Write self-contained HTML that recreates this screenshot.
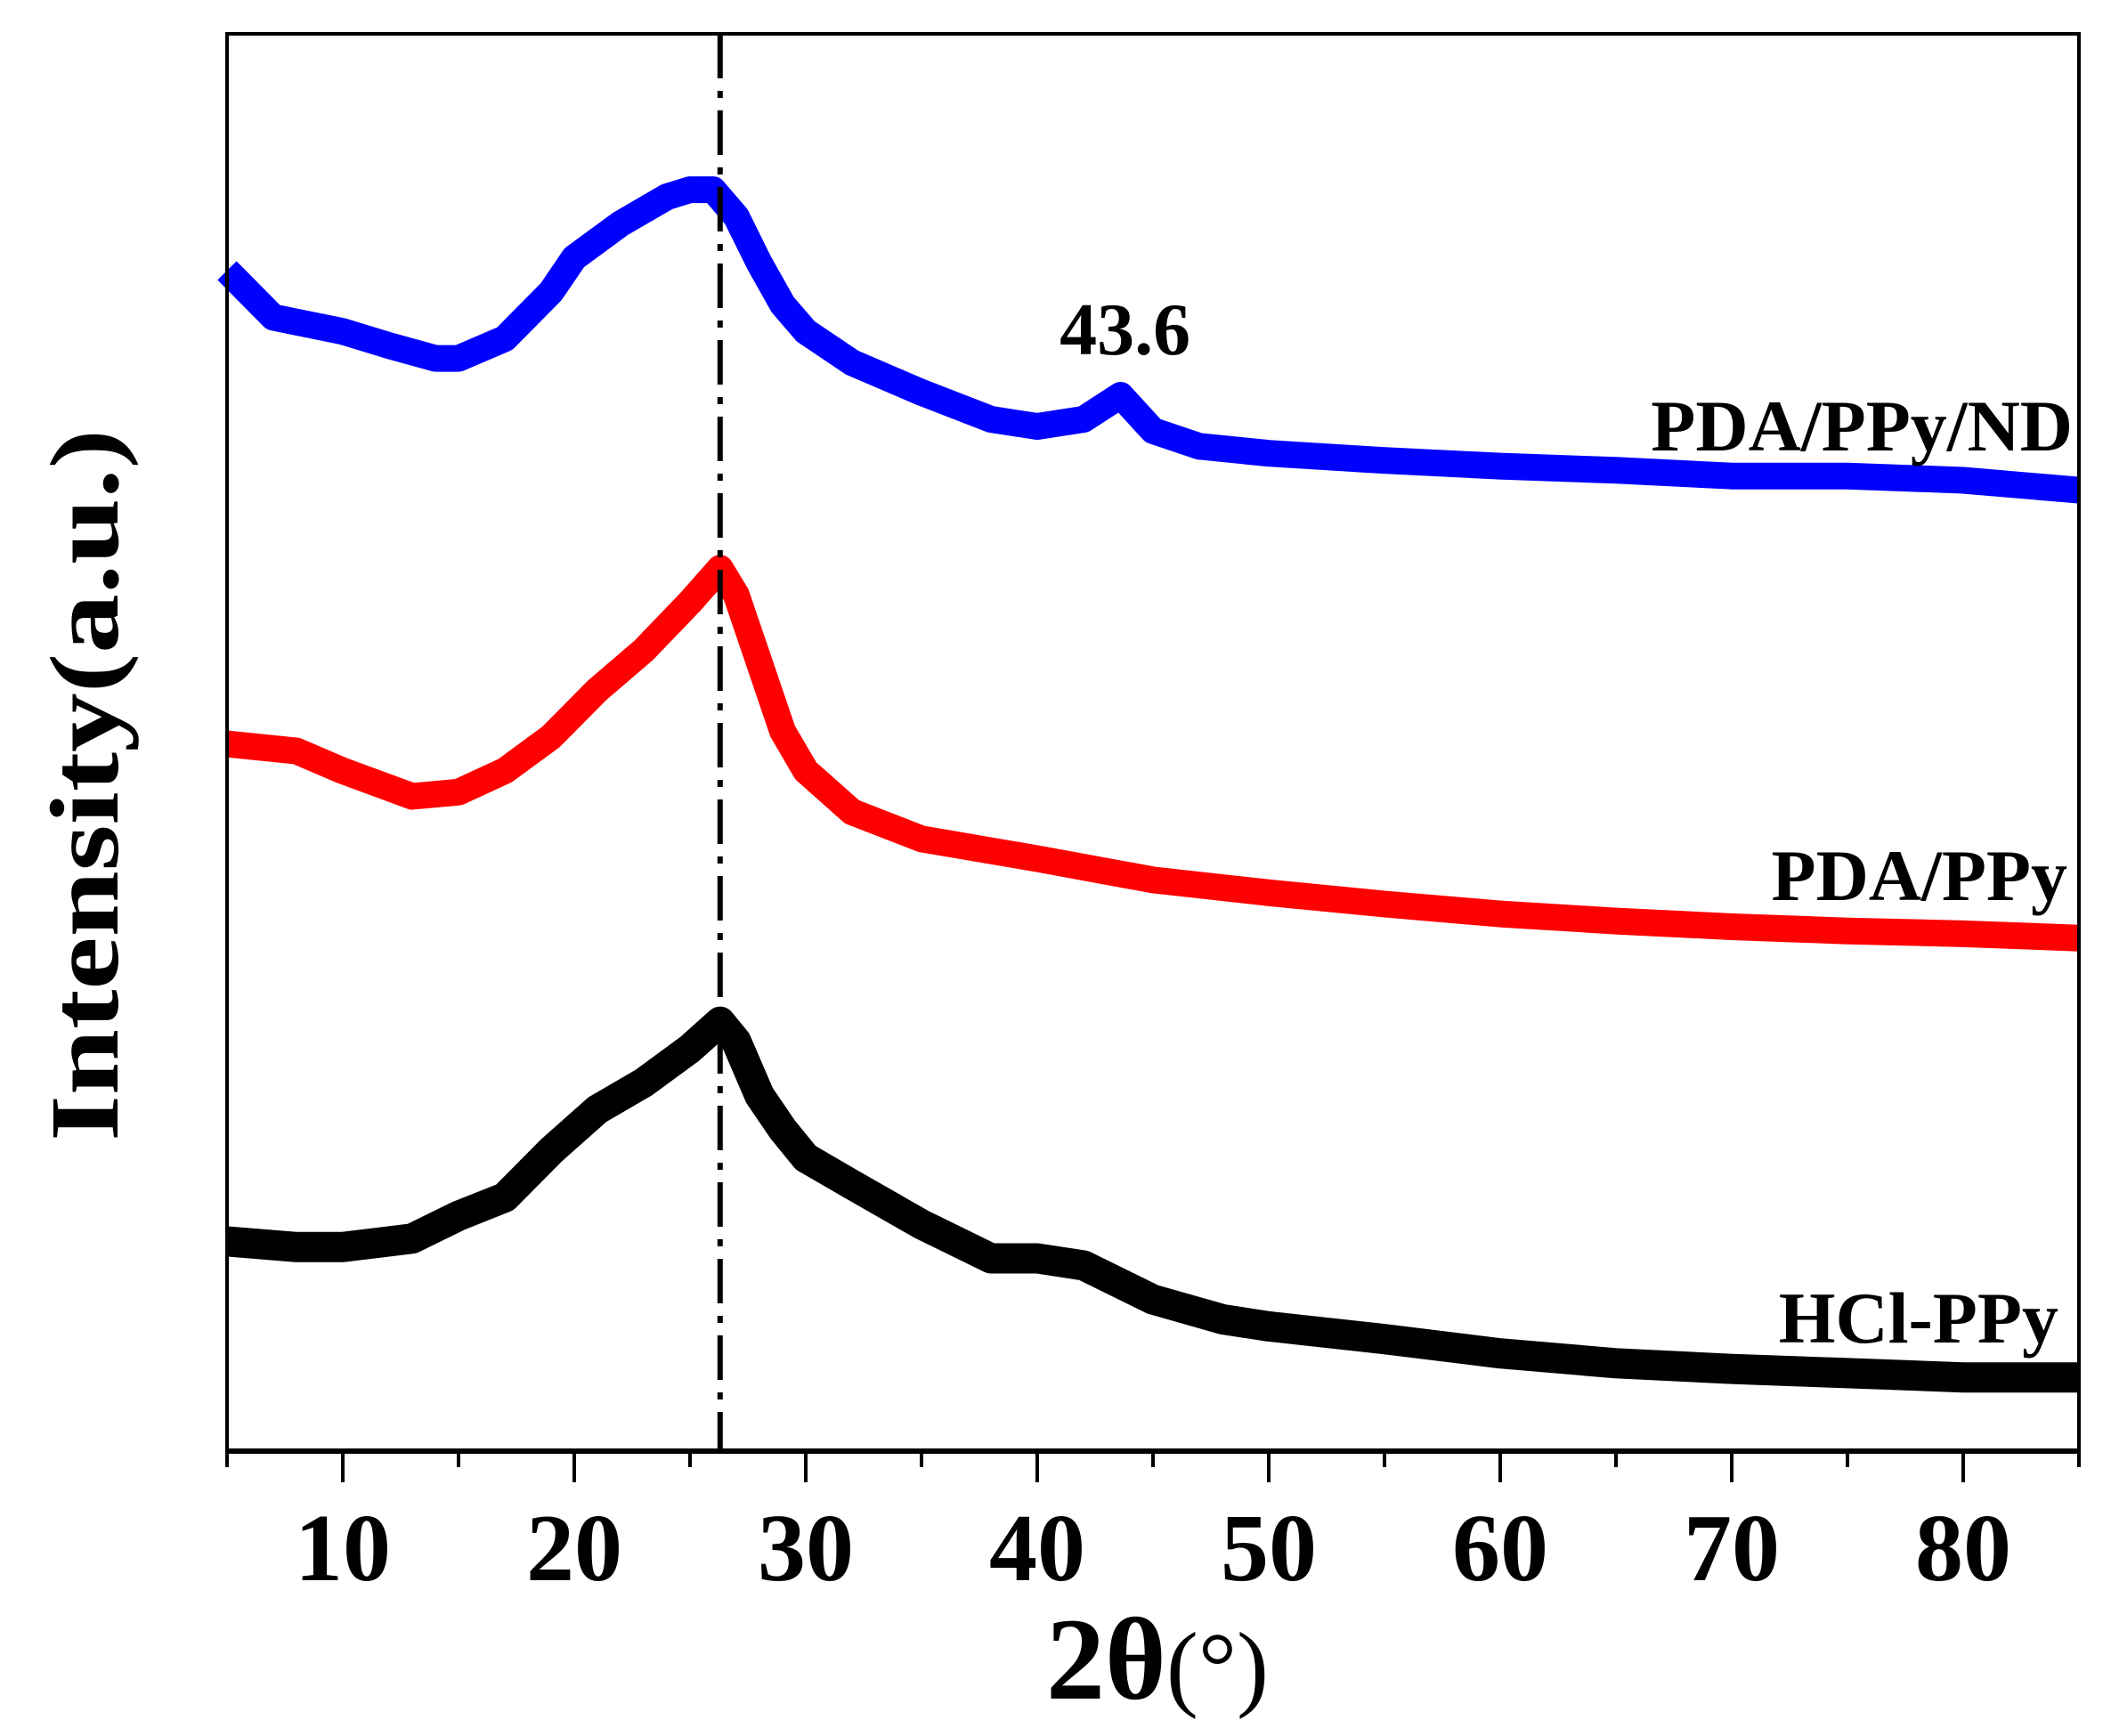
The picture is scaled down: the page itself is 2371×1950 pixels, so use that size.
<!DOCTYPE html>
<html><head><meta charset="utf-8"><style>
html,body{margin:0;padding:0;background:#fff;}
svg{display:block;font-family:"Liberation Serif",serif;}
</style></head><body>
<svg id="chart" width="2371" height="1950" viewBox="0 0 2371 1950" xmlns="http://www.w3.org/2000/svg">
<g id="series"></g>
<g id="axes"></g>
</svg>
<script>
const xTicks=[10,20,30,40,50,60,70,80];
const xMinorTicks=[5,15,25,35,45,55,65,75,85];
const blueX=[5,7,10,12,14,15,17,19,20,22,24,25,26,27,28,29,30,32,35,38,40,42,43.6,45,47,50,55,60,65,70,75,80,85];
const blueY=[83.3,80.0,79.0,78.0,77.1,77.1,78.5,81.8,84.2,86.6,88.5,89.0,89.0,87.1,83.8,80.9,79.0,76.8,74.7,72.8,72.3,72.8,74.5,72.0,70.9,70.4,69.9,69.5,69.2,68.8,68.8,68.5,67.8];
const redX=[5,8,10,13,15,17,19,21,23,25,26.3,27,28,29,30,32,35,40,45,50,55,60,65,70,75,80,85];
const redY=[49.9,49.4,48.0,46.2,46.5,48.0,50.4,53.7,56.5,59.9,62.3,60.4,55.6,50.8,48.0,45.1,43.2,41.8,40.3,39.4,38.6,37.9,37.4,37.0,36.7,36.5,36.2];
const blackX=[5,8,10,13,15,17,19,21,23,25,26.3,27,28,29,30,32,35,38,40,42,45,48,50,55,60,65,70,75,80,85];
const blackY=[14.8,14.4,14.4,15.0,16.6,17.9,21.2,24.1,26.0,28.4,30.3,28.9,25.1,22.7,20.7,18.8,16.0,13.6,13.6,13.1,10.7,9.3,8.8,7.9,6.9,6.2,5.8,5.5,5.2,5.2];
const refLineX=26.3;
const peakLabelX=43.6;

const L=255,R=2335,T=38,B=1630;
const xs=v=>L+(v-5)/(85-5)*(R-L);
const ys=v=>B-v/100*(B-T);
const NS='http://www.w3.org/2000/svg';
const sg=document.getElementById('series'), ag=document.getElementById('axes');
function mk(tag,attrs,parent){const e=document.createElementNS(NS,tag);for(const k in attrs)e.setAttribute(k,attrs[k]);parent.appendChild(e);return e;}

function drawSeries(X,Y,color,w,name){
  let d='';X.forEach((x,i)=>{d+=(i?'L':'M')+xs(x).toFixed(1)+','+ys(Y[i]).toFixed(1);});
  const p=mk('path',{d:d,fill:'none',stroke:color,'stroke-width':w,'stroke-linejoin':'round','stroke-linecap':'butt'},sg);
  
  
}
drawSeries(blueX,blueY,'#0000ff',30,'series-pda-ppy-nd');
drawSeries(redX,redY,'#ff0000',30,'series-pda-ppy');
drawSeries(blackX,blackY,'#000000',34,'series-hcl-ppy');

const rl=mk('line',{x1:xs(refLineX),x2:xs(refLineX),y1:T,y2:B,stroke:'#000','stroke-width':6,'stroke-dasharray':'50 14 8 14'},ag);



const fr=mk('rect',{x:L,y:T,width:R-L,height:B-T,fill:'none',stroke:'#000','stroke-width':4},ag);


const bx=mk('line',{x1:L-2,x2:R+2,y1:B,y2:B,stroke:'#000','stroke-width':6},ag);



xTicks.forEach(v=>{
  const t=mk('line',{x1:xs(v),x2:xs(v),y1:B,y2:B+35,stroke:'#000','stroke-width':4},ag);
  
  
  const tx=mk('text',{x:xs(v),y:1775,'text-anchor':'middle','font-size':108,'font-weight':'bold'},ag);
  tx.textContent=v;
  
  
});
xMinorTicks.forEach(v=>{
  const t=mk('line',{x1:xs(v),x2:xs(v),y1:B,y2:B+18,stroke:'#000','stroke-width':4},ag);
  
  
});

const xt=mk('text',{x:1300,y:1908,'text-anchor':'middle','font-size':132,'font-weight':'bold'},ag);
xt.innerHTML='2θ<tspan font-weight="normal" font-size="108">(°)</tspan>';


const yt=mk('text',{x:0,y:0,'text-anchor':'middle','font-size':110,'font-weight':'bold',transform:'translate(132,882) rotate(-90)',textLength:800,lengthAdjust:'spacingAndGlyphs'},ag);
yt.textContent='Intensity(a.u.)';



function lab(txt,x,y,anchor,size,name){
  const e=mk('text',{x:x,y:y,'text-anchor':anchor,'font-size':size,'font-weight':'bold'},ag);
  e.textContent=txt;
  
  
}
lab('PDA/PPy/ND',2328,506,'end',82,'label-pda-ppy-nd');
lab('PDA/PPy',2322,1011,'end',82,'label-pda-ppy');
lab('HCl-PPy',2312,1508,'end',82,'label-hcl-ppy');
lab(String(peakLabelX),xs(peakLabelX)+5,398,'middle',84,'peak-label-43-6');
</script>
</body></html>
